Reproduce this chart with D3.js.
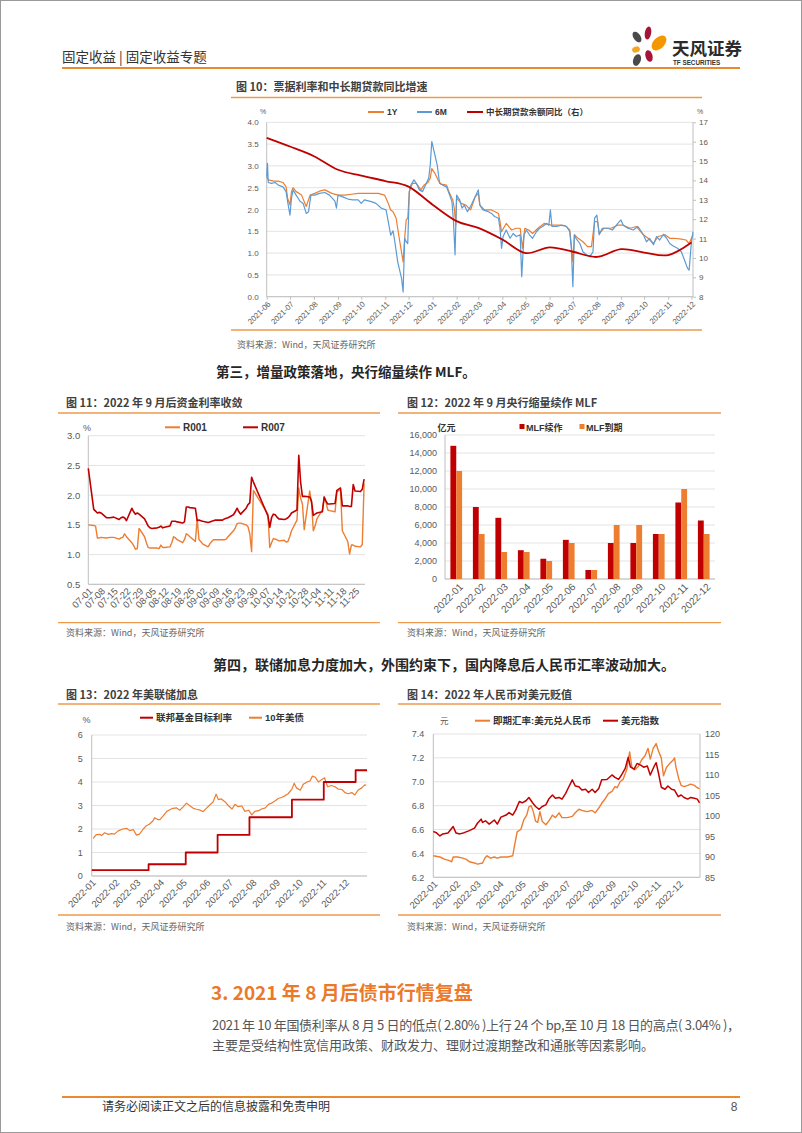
<!DOCTYPE html>
<html>
<head>
<meta charset="utf-8">
<script src="https://cdn.jsdelivr.net/npm/d3@7"></script>
<style>
body { margin: 0; background: #fff; }
</style>
</head>
<body>
<svg id="page" width="802" height="1133"></svg>
<script>
// ---------- data ----------
// fig 10: bill rates (1Y, 6M) and medium/long-term loan growth (right axis)
var f10_6m_dates = ["21-06-01","21-06-02","21-06-03","21-06-07","21-06-12","21-06-16","21-06-22","21-06-26","21-06-28","21-07-01","21-07-03","21-07-05","21-07-09","21-07-14","21-07-18","21-07-22","21-07-25","21-07-28","21-08-02","21-08-08","21-08-15","21-08-21","21-08-28","21-08-30","21-09-01","21-09-07","21-09-14","21-09-20","21-09-27","21-10-01","21-10-05","21-10-14","21-10-20","21-10-27","21-11-02","21-11-04","21-11-08","21-11-11","21-11-13","21-11-17","21-11-22","21-11-24","21-11-26","21-11-28","21-11-30","21-12-02","21-12-04","21-12-08","21-12-11","21-12-15","21-12-19","21-12-24","21-12-27","21-12-29","21-12-31","22-01-04","22-01-07","22-01-10","22-01-14","22-01-19","22-01-23","22-01-26","22-01-28","22-01-30","22-02-01","22-02-05","22-02-08","22-02-11","22-02-15","22-02-19","22-02-24","22-03-01","22-03-03","22-03-07","22-03-14","22-03-18","22-03-22","22-03-27","22-03-29","22-03-31","22-04-02","22-04-06","22-04-11","22-04-15","22-04-19","22-04-24","22-04-26","22-04-29","22-05-02","22-05-06","22-05-10","22-05-15","22-05-19","22-05-23","22-05-28","22-05-31","22-06-02","22-06-04","22-06-10","22-06-16","22-06-23","22-06-27","22-06-29","22-07-01","22-07-03","22-07-05","22-07-10","22-07-14","22-07-18","22-07-23","22-07-27","22-07-29","22-08-01","22-08-04","22-08-08","22-08-15","22-08-21","22-08-28","22-09-01","22-09-04","22-09-10","22-09-17","22-09-23","22-09-30","22-10-04","22-10-08","22-10-13","22-10-17","22-10-21","22-10-26","22-10-30","22-11-03","22-11-07","22-11-13","22-11-18","22-11-22","22-11-26","22-11-28","22-12-01","22-12-03"];
var f10_6m = [2.75,3.06,2.62,2.60,2.62,2.56,2.52,2.41,2.18,1.87,2.26,2.45,2.33,2.19,2.14,1.91,1.95,2.33,2.33,2.37,2.39,2.33,2.19,2.03,2.33,2.29,2.24,2.22,2.22,2.14,2.22,2.18,2.14,2.03,1.99,1.80,1.41,1.51,1.30,0.80,0.42,0.11,1.34,1.26,1.22,2.41,2.56,2.68,2.60,2.45,2.41,2.60,2.72,3.02,3.56,3.25,3.02,2.60,2.56,2.52,2.33,2.18,1.72,0.96,2.33,2.22,2.03,2.10,1.95,2.07,2.26,2.45,2.10,1.99,1.95,1.91,1.84,1.80,1.57,1.11,1.38,1.53,1.34,1.45,1.38,1.42,0.46,1.42,1.53,1.42,1.34,1.49,1.57,1.61,1.68,1.64,1.99,1.61,1.61,1.64,1.61,1.49,1.11,0.23,1.42,1.34,1.22,1.03,0.97,0.92,1.03,1.80,1.87,1.42,1.57,1.57,1.53,1.68,1.76,1.64,1.57,1.53,1.61,1.42,1.26,1.34,1.19,1.38,1.30,1.43,1.34,1.22,1.17,1.11,1.03,0.84,0.65,0.61,1.26,1.49];

var f10_1y_dates = ["21-06-01","21-06-03","21-06-10","21-06-16","21-06-22","21-06-26","21-06-28","21-07-01","21-07-03","21-07-05","21-07-09","21-07-16","21-07-22","21-07-27","21-08-02","21-08-08","21-08-15","21-08-24","21-09-01","21-09-10","21-09-18","21-09-27","21-10-05","21-10-14","21-10-23","21-10-31","21-11-04","21-11-08","21-11-11","21-11-15","21-11-19","21-11-24","21-11-26","21-11-28","21-11-30","21-12-02","21-12-06","21-12-11","21-12-17","21-12-21","21-12-26","21-12-29","21-12-31","22-01-04","22-01-08","22-01-12","22-01-19","22-01-23","22-01-27","22-01-29","22-01-31","22-02-01","22-02-07","22-02-13","22-02-19","22-02-25","22-03-01","22-03-03","22-03-09","22-03-18","22-03-27","22-03-29","22-03-31","22-04-06","22-04-13","22-04-19","22-04-24","22-04-27","22-04-30","22-05-05","22-05-10","22-05-17","22-05-25","22-06-03","22-06-12","22-06-21","22-06-27","22-06-29","22-07-01","22-07-03","22-07-07","22-07-14","22-07-20","22-07-25","22-07-29","22-08-02","22-08-04","22-08-10","22-08-19","22-08-28","22-09-04","22-09-13","22-09-21","22-09-30","22-10-06","22-10-13","22-10-19","22-10-28","22-11-03","22-11-09","22-11-18","22-11-24","22-11-28","22-11-30","22-12-03"];
var f10_1y = [2.75,2.68,2.65,2.65,2.62,2.52,2.26,2.10,2.41,2.50,2.41,2.33,2.07,2.33,2.37,2.42,2.45,2.37,2.33,2.33,2.35,2.37,2.37,2.37,2.37,2.33,2.18,1.99,1.95,1.80,1.34,0.80,1.34,1.76,1.80,2.41,2.60,2.60,2.45,2.56,2.62,2.72,2.94,2.83,2.68,2.58,2.56,2.37,2.22,2.03,1.64,2.26,2.14,2.10,1.99,2.29,2.37,2.10,1.99,1.99,1.91,1.72,1.49,1.68,1.53,1.57,1.57,1.11,1.57,1.53,1.45,1.57,1.68,1.64,1.64,1.63,1.53,1.19,0.80,1.42,1.35,1.26,1.15,1.15,1.72,1.72,1.45,1.57,1.57,1.64,1.64,1.57,1.61,1.42,1.34,1.22,1.38,1.42,1.34,1.34,1.32,1.30,1.22,1.30,1.42];

var f10_loan_dates = ["21-06-01","21-07-01","21-08-01","21-09-01","21-10-01","21-11-01","21-12-01","22-01-01","22-02-01","22-03-01","22-04-01","22-05-01","22-06-01","22-07-01","22-08-01","22-09-01","22-10-01","22-11-01","22-12-01"];
var f10_loan = [16.2,15.75,15.25,14.55,14.25,13.97,13.68,12.75,11.9,11.55,10.95,10.25,10.55,10.32,10.05,10.45,10.28,10.15,10.8];

// fig 11: R001 / R007, 2022
var f11_dates = ["07-01","07-04","07-05","07-06","07-07","07-08","07-11","07-13","07-15","07-18","07-19","07-20","07-21","07-22","07-25","07-26","07-27","07-28","07-29","08-01","08-02","08-03","08-04","08-05","08-08","08-09","08-10","08-11","08-12","08-15","08-16","08-17","08-18","08-19","08-22","08-23","08-24","08-25","08-26","08-29","08-30","08-31","09-01","09-02","09-05","09-06","09-07","09-08","09-09","09-13","09-14","09-15","09-16","09-19","09-20","09-21","09-22","09-23","09-26","09-27","09-28","09-29","09-30","10-08","10-09","10-10","10-11","10-12","10-13","10-14","10-17","10-18","10-19","10-20","10-21","10-24","10-25","10-26","10-27","10-28","10-31","11-01","11-02","11-03","11-04","11-07","11-08","11-09","11-10","11-11","11-14","11-15","11-16","11-17","11-18","11-21","11-22","11-23","11-24","11-25","11-28","11-29","11-30"];
var f11_r001 = [1.50,1.49,1.48,1.28,1.28,1.29,1.28,1.29,1.29,1.26,1.28,1.29,1.35,1.30,1.20,1.15,1.09,1.10,1.44,1.30,1.20,1.12,1.11,1.11,1.11,1.10,1.16,1.12,1.12,1.13,1.20,1.30,1.28,1.25,1.20,1.25,1.35,1.33,1.30,1.22,1.60,1.25,1.22,1.18,1.13,1.18,1.22,1.25,1.25,1.25,1.25,1.26,1.30,1.40,1.45,1.52,1.53,1.53,1.50,1.47,1.35,1.05,2.08,1.68,1.12,1.20,1.27,1.26,1.25,1.23,1.24,1.21,1.22,1.30,1.40,1.58,2.12,1.95,1.85,1.42,2.07,1.88,1.40,1.48,1.60,1.75,1.95,1.88,1.75,1.74,1.72,2.05,2.08,2.08,1.40,1.22,1.01,1.16,1.16,1.14,1.13,1.17,2.20];
var f11_r007 = [2.45,1.76,1.73,1.70,1.71,1.70,1.62,1.62,1.63,1.59,1.62,1.63,1.62,1.57,1.78,1.72,1.68,1.70,1.68,1.60,1.54,1.48,1.45,1.44,1.45,1.46,1.48,1.45,1.46,1.48,1.56,1.56,1.56,1.55,1.53,1.55,1.80,1.80,1.79,1.78,1.57,1.58,1.57,1.56,1.54,1.55,1.56,1.57,1.58,1.58,1.60,1.61,1.62,1.67,1.72,1.78,1.72,1.68,1.78,1.84,1.87,2.30,2.22,1.65,1.46,1.62,1.68,1.67,1.63,1.60,1.59,1.60,1.62,1.65,1.70,1.75,2.67,2.22,1.98,1.98,1.97,1.90,1.66,1.68,1.70,1.72,1.97,1.90,1.85,1.85,1.86,2.08,2.10,2.12,1.82,1.82,1.81,1.81,2.18,2.07,2.06,2.10,2.27];
var f11_ticks = ["07-01","07-08","07-15","07-22","07-29","08-05","08-12","08-19","08-26","09-02","09-09","09-16","09-23","09-30","10-07","10-14","10-21","10-28","11-04","11-11","11-18","11-25"];

// fig 12: MLF operations, 亿元
var f12_months = ["2022-01","2022-02","2022-03","2022-04","2022-05","2022-06","2022-07","2022-08","2022-09","2022-10","2022-11","2022-12"];
var f12_renew = [14800,8000,6800,3200,2250,4350,1000,4000,4000,5000,8500,6500];
var f12_due = [12000,5000,3000,3000,2000,4000,1000,6000,6000,5000,10000,5000];

// fig 13: Fed funds target (upper) and UST 10Y
var f13_fed_dates = ["01-01","03-17","05-05","06-16","07-28","09-22","11-03","12-15","12-30"];
var f13_fed = [0.25,0.5,1.0,1.75,2.5,3.25,4.0,4.5,4.5];
var f13_ust_dates = ["01-03","01-07","01-12","01-14","01-18","01-23","01-27","01-31","02-05","02-11","02-16","02-20","02-25","03-01","03-05","03-10","03-14","03-18","03-23","03-25","03-29","04-01","04-05","04-10","04-14","04-18","04-23","04-27","05-02","05-06","05-10","05-15","05-19","05-24","05-28","06-01","06-06","06-10","06-14","06-17","06-21","06-26","06-30","07-05","07-09","07-13","07-18","07-22","07-27","07-31","08-04","08-09","08-13","08-18","08-22","08-26","08-31","09-04","09-09","09-13","09-17","09-22","09-25","09-28","10-03","10-07","10-12","10-16","10-19","10-23","10-27","10-31","11-04","11-08","11-13","11-18","11-22","11-27","12-01","12-05","12-10","12-14","12-18","12-23","12-27","12-29"];
var f13_ust = [1.60,1.76,1.77,1.72,1.84,1.77,1.80,1.78,1.92,2.00,2.03,1.93,1.97,1.74,1.78,2.00,2.14,2.20,2.35,2.48,2.40,2.40,2.55,2.75,2.82,2.88,2.90,2.80,2.95,3.10,3.00,2.88,2.84,2.80,2.74,2.88,3.03,3.15,3.48,3.25,3.28,3.15,3.00,2.85,3.05,2.95,2.98,2.75,2.80,2.60,2.75,2.78,2.85,2.90,3.05,3.10,3.20,3.30,3.35,3.42,3.50,3.70,3.95,3.75,3.65,3.90,4.00,4.05,4.25,4.20,4.00,4.10,4.18,3.80,3.85,3.80,3.70,3.68,3.55,3.50,3.55,3.45,3.65,3.75,3.88,3.86];

// fig 14: USD/CNY spot (left) and dollar index (right)
var f14_cny_dates = ["01-01","01-10","01-17","01-23","01-26","01-28","02-03","02-10","02-15","02-19","02-26","03-02","03-09","03-12","03-15","03-20","03-25","03-29","04-03","04-12","04-19","04-21","04-25","04-30","05-04","05-08","05-11","05-14","05-17","05-20","05-23","05-26","05-29","06-03","06-07","06-12","06-16","06-21","06-25","07-02","07-09","07-13","07-18","07-22","07-29","08-05","08-09","08-14","08-18","08-23","08-27","09-01","09-05","09-08","09-12","09-16","09-21","09-25","09-28","10-02","10-07","10-11","10-16","10-20","10-23","10-27","10-31","11-03","11-07","11-10","11-14","11-18","11-23","11-25","11-27","12-01","12-04","12-08","12-13","12-17","12-22","12-26","12-29"];
var f14_cny = [6.38,6.37,6.35,6.34,6.33,6.37,6.37,6.36,6.35,6.33,6.32,6.31,6.32,6.36,6.38,6.36,6.37,6.36,6.37,6.37,6.38,6.45,6.58,6.60,6.68,6.72,6.79,6.80,6.75,6.67,6.66,6.75,6.67,6.64,6.67,6.72,6.70,6.74,6.70,6.70,6.71,6.74,6.77,6.76,6.75,6.76,6.74,6.78,6.82,6.86,6.90,6.92,6.96,6.95,7.00,7.02,7.10,7.25,7.12,7.10,7.13,7.18,7.22,7.28,7.19,7.28,7.32,7.26,7.20,7.05,7.12,7.15,7.18,7.20,7.12,7.02,6.97,6.96,6.97,6.98,6.97,6.95,6.94];
var f14_dxy_dates = ["01-01","01-05","01-10","01-14","01-21","01-28","02-01","02-06","02-12","02-19","02-26","03-02","03-07","03-09","03-13","03-18","03-25","03-29","04-03","04-10","04-14","04-19","04-23","04-28","05-02","05-07","05-11","05-16","05-20","05-25","05-29","06-03","06-07","06-12","06-16","06-21","06-25","06-30","07-04","07-09","07-13","07-18","07-22","07-27","07-31","08-05","08-09","08-14","08-18","08-25","09-01","09-05","09-10","09-14","09-19","09-23","09-26","10-01","10-05","10-10","10-14","10-19","10-23","10-28","10-31","11-03","11-07","11-12","11-16","11-21","11-25","11-30","12-04","12-08","12-13","12-17","12-22","12-26","12-29"];
var f14_dxy = [96.2,95.9,95.1,95.6,95.8,97.4,95.8,95.6,95.9,96.4,97.0,98.2,99.2,98.4,98.8,98.0,99.0,98.0,99.7,100.2,100.8,100.2,101.4,103.5,103.2,103.7,104.5,103.2,102.3,101.6,102.3,102.7,104.1,105.1,104.3,104.5,104.1,105.5,107.0,108.8,107.3,107.1,106.3,106.5,105.7,106.5,105.7,106.7,108.8,108.9,110.0,109.4,108.9,110.0,111.6,114.3,112.0,111.4,112.8,112.4,111.9,112.2,110.0,112.0,113.0,110.6,107.0,106.5,107.3,106.5,106.3,104.7,105.1,104.5,104.1,104.5,104.3,104.1,103.2];

// ---------- styles ----------
var ORANGE = "#ED7D31", RED = "#C00000", BLUE = "#5B9BD5";
var GRID = "#E3E3E3", AXIS = "#BFBFBF", TXT = "#595959", LINEOR = "#EE9A4D";
var FONT = "'Liberation Sans','Noto Sans CJK SC',sans-serif";
var CJK = "'Noto Sans CJK SC',sans-serif";

var svg = d3.select("#page");
var pY = d3.timeParse("%y-%m-%d");
var p22 = d3.timeParse("%Y-%m-%d");
function d22(s) { return p22("2022-" + s); }

function zip(dates, vals, parse) {
	return dates.map(function(d, i){ return {date: parse(d), v: vals[i]}; });
}

function text(x, y, s, size, opts) {
	opts = opts || {};
	var t = svg.append("text").attr("x", x).attr("y", y)
		.attr("font-family", opts.family || CJK)
		.attr("font-size", size)
		.attr("font-weight", opts.weight || "normal")
		.attr("fill", opts.fill || "#333")
		.attr("text-anchor", opts.anchor || "start")
		.text(s);
	return t;
}

function hline(x1, x2, y, color, w) {
	svg.append("line").attr("x1", x1).attr("x2", x2).attr("y1", y).attr("y2", y)
		.attr("stroke", color).attr("stroke-width", w);
}

function figTitle(x, y, s, lx1, lx2, ly) {
	text(x, y, s, 11, {weight: "bold", fill: "#404040"});
	hline(lx1, lx2, ly, LINEOR, 1.3);
}

function source(x, y) {
	text(x, y, "资料来源：Wind，天风证券研究所", 9, {fill: "#666"});
}

function styleAxis(g, size) {
	g.select(".domain").remove();
	g.selectAll("line").attr("stroke", AXIS);
	g.selectAll("text").attr("font-size", size).attr("fill", TXT).attr("font-family", FONT);
}

function rotateTicks(g, dx, dy) {
	g.selectAll("text").attr("x", 0).attr("y", 0).attr("dy", "0.35em")
		.attr("text-anchor", "end")
		.attr("transform", "translate(" + dx + "," + dy + ") rotate(-45)");
}

function grid(vals, y, x1, x2) {
	svg.append("g").selectAll("line").data(vals).enter().append("line")
		.attr("x1", x1).attr("x2", x2)
		.attr("y1", function(d){ return y(d); }).attr("y2", function(d){ return y(d); })
		.attr("stroke", GRID).attr("stroke-width", 1);
}

function vline(x, y1, y2) {
	svg.append("line").attr("x1", x).attr("x2", x).attr("y1", y1).attr("y2", y2)
		.attr("stroke", AXIS).attr("stroke-width", 1);
}

function legendLine(x1, x2, y, color, w, label, size) {
	hline(x1, x2, y, color, w);
	text(x2 + 3, y + size * 0.36, label, size, {weight: "bold", fill: "#333", family: FONT});
}

function drawLine(data, x, y, color, w, curve) {
	svg.append("path").datum(data)
		.attr("fill", "none").attr("stroke", color).attr("stroke-width", w)
		.attr("stroke-linejoin", "round")
		.attr("d", d3.line().curve(curve || d3.curveLinear)
			.x(function(d){ return x(d.date); }).y(function(d){ return y(d.v); }));
}

// ---------- page frame, header, footer ----------
svg.append("rect").attr("x", 0.5).attr("y", 0.5).attr("width", 801).attr("height", 1132)
	.attr("fill", "none").attr("stroke", "#9a9a9a");

text(62, 62, "固定收益 | 固定收益专题", 13.5, {fill: "#333"});
hline(62, 740, 68, "#E98A2E", 2);

// logo
var petals = [
	[637, 37, 3.5, 6, -35, "#4a4a4a"],
	[648, 33, 3.2, 6.5, 10, "#A3163A"],
	[659, 43, 5.5, 9, 45, "#F39800"],
	[636, 49.5, 3, 4, 70, "#F5A623"],
	[649, 56, 3.5, 6, -15, "#A3163A"],
	[637, 60, 3.8, 6, 20, "#4a4a4a"]
];
svg.append("g").selectAll("ellipse").data(petals).enter().append("ellipse")
	.attr("cx", 0).attr("cy", 0)
	.attr("rx", function(d){ return d[2]; }).attr("ry", function(d){ return d[3]; })
	.attr("transform", function(d){ return "translate(" + d[0] + "," + d[1] + ") rotate(" + d[4] + ")"; })
	.attr("fill", function(d){ return d[5]; });
text(672, 55, "天风证券", 17.5, {weight: "bold", fill: "#2b2b2b"});
text(673, 65, "TF SECURITIES", 6.3, {weight: "bold", fill: "#333", family: FONT});

hline(62, 740, 1097, "#E98A2E", 2);
text(102, 1111, "请务必阅读正文之后的信息披露和免责申明", 12, {fill: "#333"});
text(734, 1111, "8", 12, {fill: "#555", family: FONT, anchor: "middle"});

// ---------- fig 10 ----------
figTitle(236, 91, "图 10：票据利率和中长期贷款同比增速", 231, 702, 97.5);
var x10 = d3.scaleTime().domain([pY("21-06-01"), pY("22-12-03")]).range([266.7, 693]);
var yL10 = d3.scaleLinear().domain([0, 4]).range([296.7, 122.3]);
var yR10 = d3.scaleLinear().domain([8, 17]).range([296.7, 122.3]);
var f10_left_ticks = d3.range(0, 4.01, 0.5);
grid(f10_left_ticks, yL10, 266.7, 693);
vline(266.7, 122.3, 296.7);
vline(693, 122.3, 296.7);
hline(266.7, 693, 296.7, AXIS, 1);

var gL10 = svg.append("g").attr("transform", "translate(266.7,0)")
	.call(d3.axisLeft(yL10).tickValues(f10_left_ticks).tickFormat(d3.format(".1f")).tickSize(0).tickPadding(8));
styleAxis(gL10, 8);
var gR10 = svg.append("g").attr("transform", "translate(693,0)")
	.call(d3.axisRight(yR10).tickValues(d3.range(8, 18)).tickSize(3).tickPadding(3));
styleAxis(gR10, 8);
var gX10 = svg.append("g").attr("transform", "translate(0,296.7)")
	.call(d3.axisBottom(x10).ticks(d3.timeMonth.every(1)).tickFormat(d3.timeFormat("%Y-%m")).tickSize(3));
styleAxis(gX10, 7.8);
rotateTicks(gX10, 2, 6);

drawLine(zip(f10_1y_dates, f10_1y, pY), x10, yL10, ORANGE, 1.2);
drawLine(zip(f10_6m_dates, f10_6m, pY), x10, yL10, BLUE, 1.2);
drawLine(zip(f10_loan_dates, f10_loan, pY), x10, yR10, RED, 1.8, d3.curveCardinal.tension(0));

text(263, 114, "%", 7, {fill: TXT, family: FONT, anchor: "middle"});
text(700, 114, "%", 7, {fill: TXT, family: FONT, anchor: "middle"});
legendLine(368, 384, 112, ORANGE, 2, "1Y", 8.5);
legendLine(417, 432, 112, BLUE, 2, "6M", 8.5);
legendLine(467, 483, 112, RED, 2, "中长期贷款余额同比（右）", 8.5);

hline(231, 702, 330, LINEOR, 1.3);
source(237, 348);

text(216, 377, "第三，增量政策落地，央行缩量续作 MLF。", 13.5, {weight: "bold", fill: "#262626"});

// ---------- fig 11 ----------
figTitle(66, 407, "图 11：2022 年 9 月后资金利率收敛", 58, 380, 413);
var x11 = d3.scaleTime().domain([d22("07-01"), d22("11-30")]).range([88.3, 364.1]);
var y11 = d3.scaleLinear().domain([0.5, 3.0]).range([584.3, 435.7]);
var f11_yticks = [0.5, 1.0, 1.5, 2.0, 2.5, 3.0];
grid(f11_yticks, y11, 88.3, 365);
vline(88.3, 435.7, 584.3);
hline(88.3, 365, 584.3, AXIS, 1);
var gY11 = svg.append("g").attr("transform", "translate(88.3,0)")
	.call(d3.axisLeft(y11).tickValues(f11_yticks).tickFormat(d3.format(".1f")).tickSize(0).tickPadding(8));
styleAxis(gY11, 9.5);
var gX11 = svg.append("g").attr("transform", "translate(0,584.3)")
	.call(d3.axisBottom(x11).tickValues(f11_ticks.map(d22)).tickFormat(d3.timeFormat("%m-%d")).tickSize(0));
styleAxis(gX11, 9.5);
rotateTicks(gX11, 2, 5);
drawLine(zip(f11_dates, f11_r001, d22), x11, y11, ORANGE, 1.4);
drawLine(zip(f11_dates, f11_r007, d22), x11, y11, RED, 1.6);
text(87, 431, "%", 9, {fill: TXT, family: FONT, anchor: "middle"});
legendLine(165, 180, 427.3, ORANGE, 2, "R001", 10);
legendLine(243, 258, 427.3, RED, 2, "R007", 10);
hline(58, 380, 622.7, LINEOR, 1.3);
source(66, 636);

// ---------- fig 12 ----------
figTitle(407, 407, "图 12：2022 年 9 月央行缩量续作 MLF", 398, 721, 413);
var x12 = d3.scaleBand().domain(f12_months).range([445, 715]).paddingInner(0.48).paddingOuter(0.24);
var xs12 = d3.scaleBand().domain(["renew", "due"]).range([0, x12.bandwidth()]);
var y12 = d3.scaleLinear().domain([0, 16000]).range([579, 435]);
var f12_yticks = d3.range(0, 16001, 2000);
grid(f12_yticks, y12, 445, 715);
vline(445, 435, 579);
hline(445, 715, 579, AXIS, 1);
var gY12 = svg.append("g").attr("transform", "translate(445,0)")
	.call(d3.axisLeft(y12).tickValues(f12_yticks).tickFormat(d3.format(",")).tickSize(0).tickPadding(8));
styleAxis(gY12, 9);
var gX12 = svg.append("g").attr("transform", "translate(0,579)")
	.call(d3.axisBottom(x12).tickSize(0));
styleAxis(gX12, 10);
rotateTicks(gX12, 5, 6);

var bars12 = svg.append("g").selectAll("g").data(f12_months).enter().append("g")
	.attr("transform", function(d){ return "translate(" + x12(d) + ",0)"; });
bars12.append("rect")
	.attr("x", xs12("renew")).attr("width", xs12.bandwidth())
	.attr("y", function(d, i){ return y12(f12_renew[i]); })
	.attr("height", function(d, i){ return y12(0) - y12(f12_renew[i]); })
	.attr("fill", RED);
bars12.append("rect")
	.attr("x", xs12("due")).attr("width", xs12.bandwidth())
	.attr("y", function(d, i){ return y12(f12_due[i]); })
	.attr("height", function(d, i){ return y12(0) - y12(f12_due[i]); })
	.attr("fill", ORANGE);

text(437.5, 430.5, "亿元", 9, {weight: "bold", fill: "#333"});
svg.append("rect").attr("x", 519.5).attr("y", 424).attr("width", 5).attr("height", 5).attr("fill", RED);
text(526, 430.5, "MLF续作", 9, {weight: "bold", fill: "#333", family: FONT});
svg.append("rect").attr("x", 579.5).attr("y", 424).attr("width", 5).attr("height", 5).attr("fill", ORANGE);
text(586, 430.5, "MLF到期", 9, {weight: "bold", fill: "#333", family: FONT});
hline(398, 721, 622.7, LINEOR, 1.3);
source(407, 636);

text(213, 670, "第四，联储加息力度加大，外围约束下，国内降息后人民币汇率波动加大。", 14, {weight: "bold", fill: "#262626"});

// ---------- fig 13 ----------
figTitle(66, 699, "图 13：2022 年美联储加息", 58, 380, 704);
var x13 = d3.scaleTime().domain([d22("01-01"), d22("12-30")]).range([91.7, 367]);
var y13 = d3.scaleLinear().domain([0, 6]).range([876, 735]);
var f13_yticks = d3.range(0, 7);
grid(f13_yticks, y13, 91.7, 367);
vline(91.7, 735, 876);
hline(91.7, 367, 876, AXIS, 1);
var gY13 = svg.append("g").attr("transform", "translate(91.7,0)")
	.call(d3.axisLeft(y13).tickValues(f13_yticks).tickFormat(d3.format("d")).tickSize(0).tickPadding(9));
styleAxis(gY13, 9);
var gX13 = svg.append("g").attr("transform", "translate(0,876)")
	.call(d3.axisBottom(x13).ticks(d3.timeMonth.every(1)).tickFormat(d3.timeFormat("%Y-%m")).tickSize(0));
styleAxis(gX13, 9.5);
rotateTicks(gX13, 2, 5);
drawLine(zip(f13_ust_dates, f13_ust, d22), x13, y13, ORANGE, 1.2);
drawLine(zip(f13_fed_dates, f13_fed, d22), x13, y13, RED, 1.8, d3.curveStepAfter);
text(86.5, 723, "%", 9, {fill: TXT, family: FONT, anchor: "middle"});
legendLine(140, 153, 717.7, RED, 2, "联邦基金目标利率", 9.5);
legendLine(249, 262, 717.7, ORANGE, 2, "10年美债", 9.5);
hline(58, 380, 915, LINEOR, 1.3);
source(66, 930);

// ---------- fig 14 ----------
figTitle(407, 699, "图 14：2022 年人民币对美元贬值", 398, 721, 704);
var x14 = d3.scaleTime().domain([d22("01-01"), d22("12-31")]).range([433.3, 701]);
var yL14 = d3.scaleLinear().domain([6.2, 7.4]).range([877.3, 734]);
var yR14 = d3.scaleLinear().domain([85, 120]).range([877.3, 734]);
var f14_lticks = [6.2, 6.4, 6.6, 6.8, 7.0, 7.2, 7.4];
grid(f14_lticks, yL14, 433.3, 700);
vline(433.3, 734, 877.3);
vline(700, 734, 877.3);
hline(433.3, 700, 877.3, AXIS, 1);
var gL14 = svg.append("g").attr("transform", "translate(433.3,0)")
	.call(d3.axisLeft(yL14).tickValues(f14_lticks).tickFormat(d3.format(".1f")).tickSize(0).tickPadding(9));
styleAxis(gL14, 9);
var gR14 = svg.append("g").attr("transform", "translate(700,0)")
	.call(d3.axisRight(yR14).tickValues(d3.range(85, 121, 5)).tickSize(0).tickPadding(5));
styleAxis(gR14, 9);
var gX14 = svg.append("g").attr("transform", "translate(0,877.3)")
	.call(d3.axisBottom(x14).ticks(d3.timeMonth.every(1)).tickFormat(d3.timeFormat("%Y-%m")).tickSize(0));
styleAxis(gX14, 9.5);
rotateTicks(gX14, 2, 5);
drawLine(zip(f14_cny_dates, f14_cny, d22), x14, yL14, ORANGE, 1.4);
drawLine(zip(f14_dxy_dates, f14_dxy, d22), x14, yR14, RED, 1.5);
text(440, 724, "元", 8.5, {fill: TXT});
legendLine(475, 490, 720.7, ORANGE, 2, "即期汇率:美元兑人民币", 9.5);
legendLine(603, 618, 720.7, RED, 2, "美元指数", 9.5);
hline(398, 721, 915, LINEOR, 1.3);
source(407, 930);

// ---------- section 3 ----------
text(211, 1000, "3. 2021 年 8 月后债市行情复盘", 19, {fill: "#EA7A2A", weight: "bold"});
text(212, 1030, "2021 年 10 年国债利率从 8 月 5 日的低点( 2.80% )上行 24 个 bp,至 10 月 18 日的高点( 3.04% )，", 13, {fill: "#555"})
	.attr("textLength", 528).attr("lengthAdjust", "spacing");
text(212, 1050, "主要是受结构性宽信用政策、财政发力、理财过渡期整改和通胀等因素影响。", 13, {fill: "#555"});
</script>
</body>
</html>
